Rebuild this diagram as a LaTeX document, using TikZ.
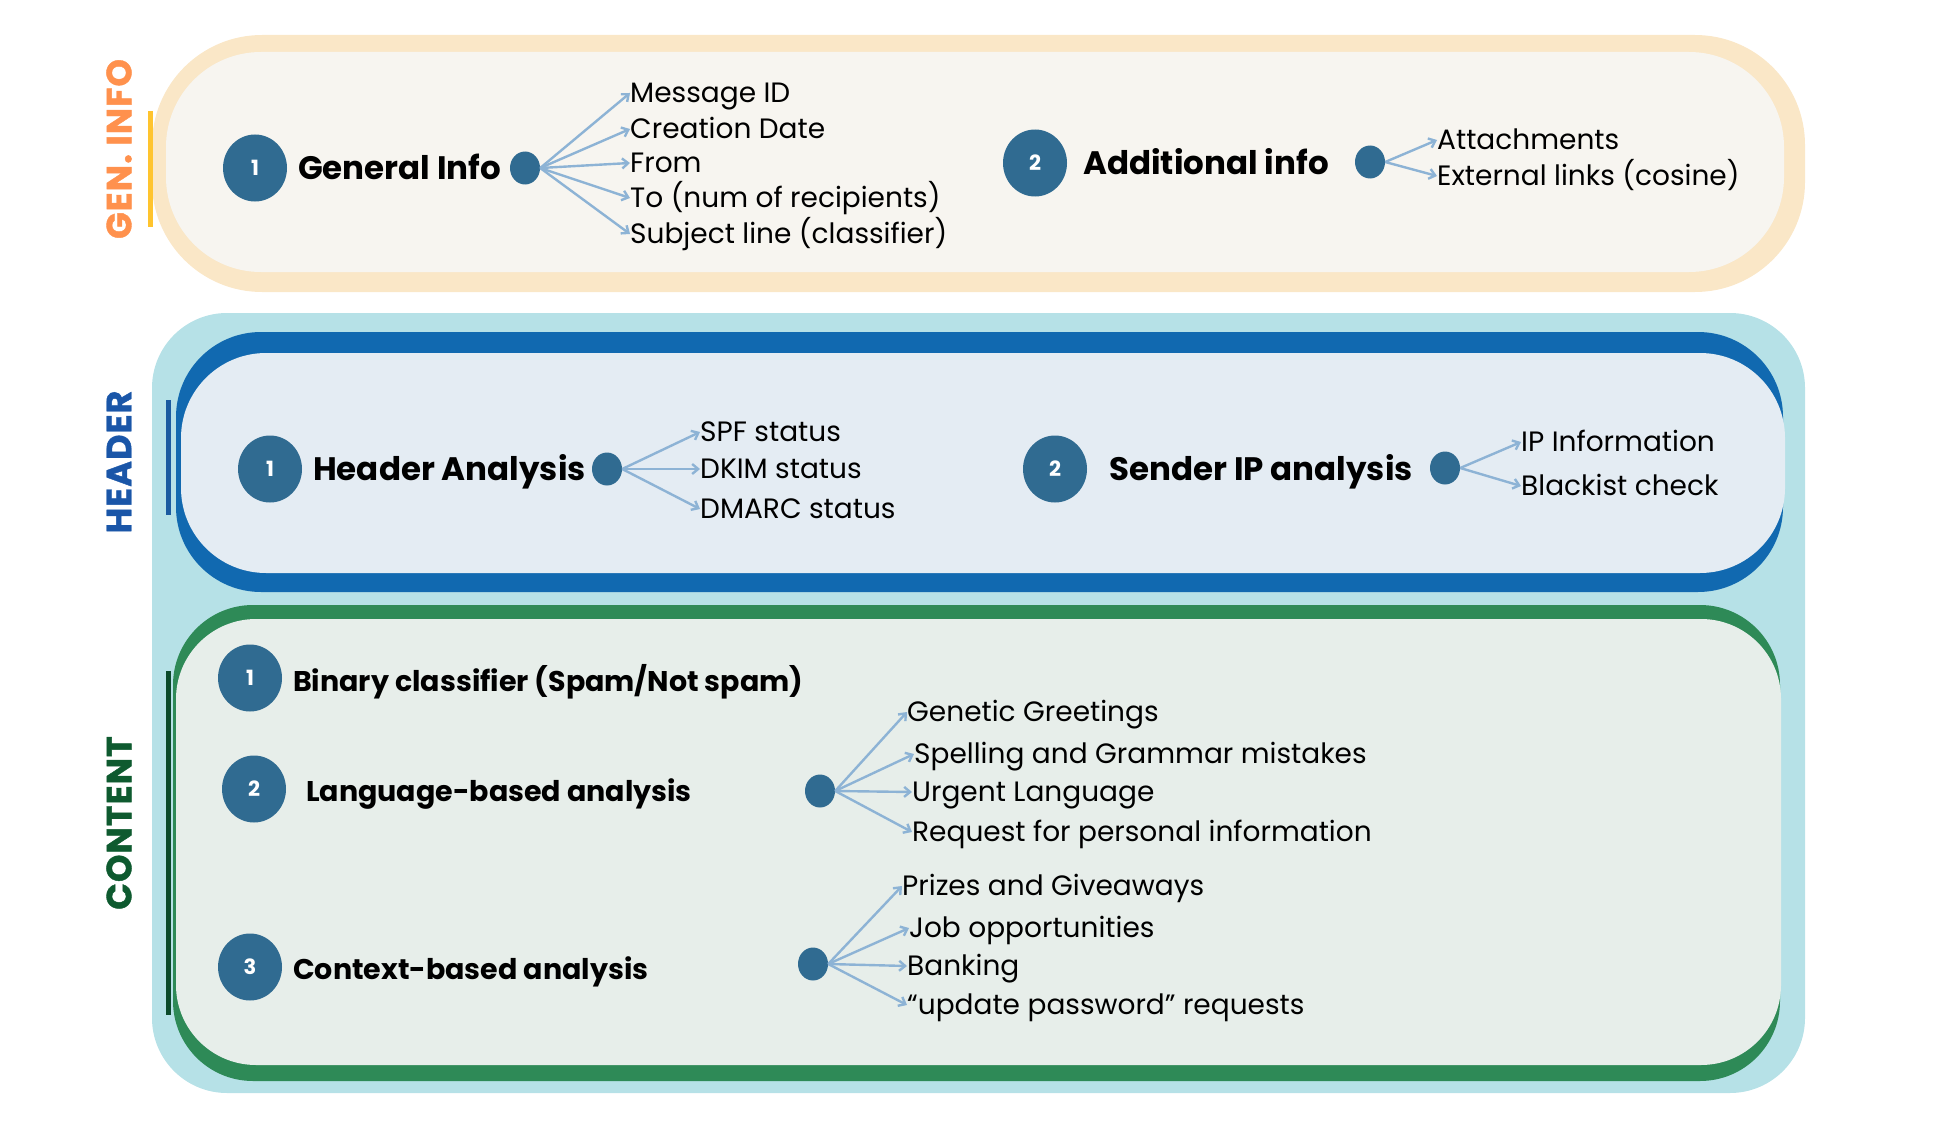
\documentclass[tikz,border=0pt]{standalone}
\usepackage{fontspec}
\setmainfont{Poppins}
\newfontfamily\tagfont[LetterSpace=3, BoldFeatures={FakeBold=1.2}]{Poppins}
\usetikzlibrary{shapes.geometric,arrows.meta}

\definecolor{genouter}{HTML}{FAE7C7}
\definecolor{geninner}{HTML}{F7F5F0}
\definecolor{gentag}{HTML}{FF914D}
\definecolor{genbar}{HTML}{FFC42E}
\definecolor{skyouter}{HTML}{B6E1E7}
\definecolor{hdrband}{HTML}{1169B0}
\definecolor{hdrinner}{HTML}{E4ECF3}
\definecolor{hdrtag}{HTML}{1A56A8}
\definecolor{hdrbar}{HTML}{1A5AA0}
\definecolor{cntband}{HTML}{2E8A57}
\definecolor{cntinner}{HTML}{E7EEEA}
\definecolor{cnttag}{HTML}{0E5A2F}
\definecolor{cntbar}{HTML}{0B4A2A}
\definecolor{badgeblue}{HTML}{306B91}
\definecolor{arrowblue}{HTML}{8DB3D5}

\tikzset{
  badge/.style={ellipse, fill=badgeblue, text=white, minimum width=64pt,
    minimum height=67pt, inner sep=0pt, font=\fontsize{21}{21}\selectfont\bfseries},
  hub/.style={ellipse, fill=badgeblue, minimum width=30pt, minimum height=33pt, inner sep=0pt},
  topic/.style={anchor=west, inner sep=0pt, text height=0.72em, text depth=0.22em,
    yshift=-9pt, font=\fontsize{32.5}{32.5}\selectfont\bfseries},
  subtopic/.style={topic, font=\fontsize{28.5}{28.5}\selectfont\bfseries, yshift=1pt},
  leaf/.style={anchor=west, inner sep=0pt, text height=0.72em, text depth=0.22em,
    yshift=-7pt, font=\fontsize{28}{28}\selectfont},
  link/.style={draw=arrowblue, line width=2.4pt, -{Straight Barb[length=6pt,width=10pt]}},
  sidetag/.style={rotate=90, inner sep=0pt, font=\tagfont\fontsize{35}{35}\selectfont\bfseries},
  sidebar/.style={line width=5pt},
}

\begin{document}
\begin{tikzpicture}[x=1pt,y=-1pt]
\useasboundingbox (0,0) rectangle (1941,1129);

% ---------- general info band ----------
\fill[genouter, rounded corners=110pt] (152,35) rectangle (1805,292);
\fill[geninner, rounded corners=95pt] (166,52) rectangle (1784,272);
\node[sidetag, text=gentag] (tagGen) at (119,149) {GEN. INFO};
\draw[sidebar, genbar] (150,111) -- (150,227);

\node[badge] (g1) at (255,168) {1};
\node[topic] (gT1) at (298,168) {General Info};
\node[hub] (gH1) at (525,168) {};
\node[leaf] (gL1) at (630,93) {Message ID};
\node[leaf] (gL2) at (630,129) {Creation Date};
\node[leaf] (gL3) at (630,163) {From};
\node[leaf] (gL4) at (630,198) {To (num of recipients)};
\node[leaf] (gL5) at (630,234) {Subject line (classifier)};
\foreach \t in {gL1,gL2,gL3,gL4,gL5} \draw[link] (gH1.east) -- ([yshift=7pt]\t.west);

\node[badge] (g2) at (1035,163) {2};
\node[topic] (gT2) at (1083,163) {Additional info};
\node[hub] (gH2) at (1370,162) {};
\node[leaf] (aL1) at (1437,140) {Attachments};
\node[leaf] (aL2) at (1437,176) {External links (cosine)};
\foreach \t in {aL1,aL2} \draw[link] (gH2.east) -- ([yshift=7pt]\t.west);

% ---------- header + content frame ----------
\fill[skyouter, rounded corners=75pt] (152,313) rectangle (1805,1093);

% header band
\fill[hdrband, rounded corners=85pt] (176,332) rectangle (1783,592);
\fill[hdrinner, rounded corners=85pt] (181,353) rectangle (1785,573);
\node[sidetag, text=hdrtag] (tagHdr) at (119,462) {HEADER};
\draw[sidebar, hdrbar] (168,400) -- (168,515);

\node[badge] (h1) at (270,469) {1};
\node[topic] (hT1) at (313,469) {Header Analysis};
\node[hub] (hH1) at (607,469) {};
\node[leaf] (hL1) at (700,432) {SPF status};
\node[leaf] (hL2) at (700,469) {DKIM status};
\node[leaf] (hL3) at (700,509) {DMARC status};
\foreach \t in {hL1,hL2,hL3} \draw[link] (hH1.east) -- ([yshift=7pt]\t.west);

\node[badge] (h2) at (1055,469) {2};
\node[topic] (hT2) at (1109,469) {Sender IP analysis};
\node[hub] (hH2) at (1445,468) {};
\node[leaf] (sL1) at (1521,442) {IP Information};
\node[leaf] (sL2) at (1521,486) {Blackist check};
\foreach \t in {sL1,sL2} \draw[link] (hH2.east) -- ([yshift=7pt]\t.west);

% content band
\fill[cntband, rounded corners=80pt] (173,605) rectangle (1780,1081);
\fill[cntinner, rounded corners=80pt] (176,619) rectangle (1781,1065);
\node[sidetag, text=cnttag] (tagCnt) at (119,823) {CONTENT};
\draw[sidebar, cntbar] (168,671) -- (168,1015);

\node[badge] (c1) at (250,678) {1};
\node[subtopic] (cT1) at (293,681) {Binary classifier (Spam/Not spam)};

\node[badge] (c2) at (254,789) {2};
\node[subtopic] (cT2) at (306,791) {Language-based analysis};
\node[hub] (cH2) at (820,791) {};
\node[leaf] (lL1) at (907,712) {Genetic Greetings};
\node[leaf] (lL2) at (914,754) {Spelling and Grammar mistakes};
\node[leaf] (lL3) at (912,792) {Urgent Language};
\node[leaf] (lL4) at (912,832) {Request for personal information};
\foreach \t in {lL1,lL2,lL3,lL4} \draw[link] (cH2.east) -- ([yshift=7pt]\t.west);

\node[badge] (c3) at (250,967) {3};
\node[subtopic] (cT3) at (293,969) {Context-based analysis};
\node[hub] (cH3) at (813,964) {};
\node[leaf] (xL1) at (902,886) {Prizes and Giveaways};
\node[leaf] (xL2) at (909,928) {Job opportunities};
\node[leaf] (xL3) at (907,966) {Banking};
\node[leaf] (xL4) at (907,1005) {“update password” requests};
\foreach \t in {xL1,xL2,xL3,xL4} \draw[link] (cH3.east) -- ([yshift=7pt]\t.west);
\end{tikzpicture}
\end{document}
